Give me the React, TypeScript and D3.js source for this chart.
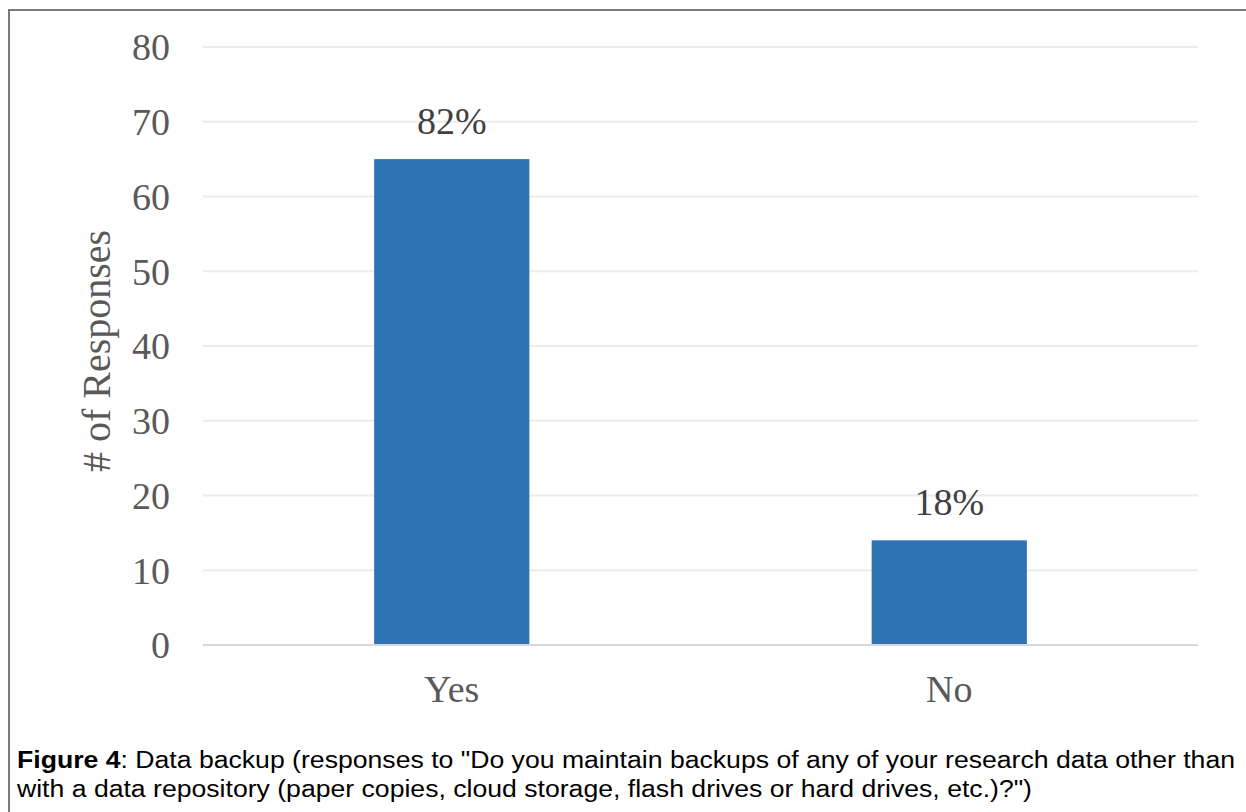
import React from "react";
import * as d3 from "d3";

const categories = ["Yes", "No"];
const responses = [65, 14];
const percentLabels = ["82%", "18%"];
const yTicks = [0, 10, 20, 30, 40, 50, 60, 70, 80];
const captionBold = "Figure 4";
const captionLine1 = ": Data backup (responses to \"Do you maintain backups of any of your research data other than";
const captionLine2 = "with a data repository (paper copies, cloud storage, flash drives or hard drives, etc.)?\")";

const W = 1246;
const H = 812;
const plot = { left: 203, right: 1198, top: 47, bottom: 645 };
const serif = "'Liberation Serif', 'Times New Roman', serif";
const sans = "'Liberation Sans', Arial, sans-serif";

export default function App() {
  const x = d3
    .scaleBand<string>()
    .domain(categories)
    .range([plot.left, plot.right])
    .paddingInner(0.688)
    .paddingOuter(0.344);
  const y = d3.scaleLinear().domain([0, 80]).range([plot.bottom, plot.top]);

  return (
    <svg
      width={W}
      height={H}
      style={{ position: "absolute", left: 0, top: 0, background: "#fff" }}
    >
      <rect x={0} y={0} width={W} height={H} fill="#fff" />
      <rect x={9} y={10} width={1250} height={820} fill="none" stroke="#7a7a7a" strokeWidth={2} />
      {yTicks.map((t) => (
        <g key={t}>
          <line
            x1={plot.left}
            x2={plot.right}
            y1={y(t)}
            y2={y(t)}
            stroke={t === 0 ? "#d9d9d9" : "#ececec"}
            strokeWidth={2}
          />
          <text
            x={170}
            y={y(t)}
            dy="0.35em"
            textAnchor="end"
            fontFamily={serif}
            fontSize={38}
            fill="#595959"
          >
            {t}
          </text>
        </g>
      ))}
      {categories.map((c, i) => (
        <g key={c}>
          <rect
            x={x(c)!}
            y={y(responses[i])}
            width={x.bandwidth()}
            height={y(0) - y(responses[i]) - 1}
            fill="#2e74b5"
          />
          <text
            x={x(c)! + x.bandwidth() / 2}
            y={y(responses[i]) - 25}
            textAnchor="middle"
            fontFamily={serif}
            fontSize={38}
            fill="#404040"
          >
            {percentLabels[i]}
          </text>
          <text
            x={x(c)! + x.bandwidth() / 2}
            y={702}
            textAnchor="middle"
            fontFamily={serif}
            fontSize={38}
            fill="#595959"
          >
            {c}
          </text>
        </g>
      ))}
      <text
        transform={`translate(110, ${(plot.top + plot.bottom) / 2 + 5}) rotate(-90)`}
        textAnchor="middle"
        fontFamily={serif}
        fontSize={40}
        fill="#595959"
      >
        # of Responses
      </text>
      <text
        x={17}
        y={768}
        fontFamily={sans}
        fontSize={23}
        fill="#000"
        textLength={1218}
        lengthAdjust="spacingAndGlyphs"
      >
        <tspan fontWeight="bold">{captionBold}</tspan>
        <tspan>{captionLine1}</tspan>
      </text>
      <text
        x={17}
        y={797}
        fontFamily={sans}
        fontSize={23}
        fill="#000"
        textLength={1015}
        lengthAdjust="spacingAndGlyphs"
      >
        {captionLine2}
      </text>
    </svg>
  );
}
